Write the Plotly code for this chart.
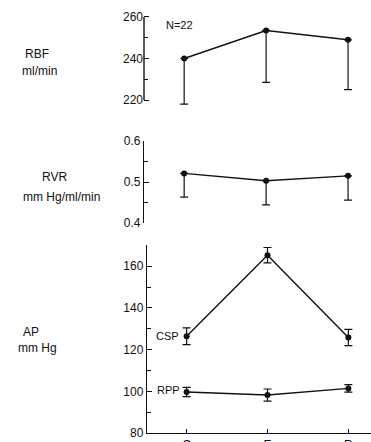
import plotly.graph_objects as go

cats = ["C", "E", "R"]
rbf = [240, 253.5, 249]
rbf_sd = [22, 25, 24]
rvr = [0.521, 0.503, 0.515]
rvr_sd = [0.058, 0.059, 0.059]
csp = [126.4, 165.3, 125.8]
csp_sd = [4.0, 3.7, 3.9]
rpp = [99.7, 98.2, 101.4]
rpp_sd = [2.2, 2.9, 1.8]

FONT = "Liberation Sans, Arial, sans-serif"
INK = "#111111"
W, H = 371, 442

fig = go.Figure()


def add(y, sd, xa, ya, lower_only):
    if lower_only:
        ey = dict(type="data", symmetric=False, array=[0] * len(sd), arrayminus=sd,
                  color=INK, thickness=1.2, width=4)
    else:
        ey = dict(type="data", array=sd, color=INK, thickness=1.2, width=4)
    fig.add_trace(go.Scatter(x=cats, y=y, xaxis=xa, yaxis=ya, mode="lines+markers",
                             line=dict(color=INK, width=1.4),
                             marker=dict(color=INK, size=6),
                             error_y=ey, showlegend=False, cliponaxis=False))


add(rbf, rbf_sd, "x", "y", True)
add(rvr, rvr_sd, "x2", "y2", True)
add(csp, csp_sd, "x3", "y3", False)
add(rpp, rpp_sd, "x3", "y3", False)

xr = [-0.49, 2.28]
common_y = dict(ticks="inside", ticklen=5, tickwidth=1.2, tickcolor=INK, showgrid=False,
                zeroline=False, linecolor=INK, linewidth=1.4,
                tickfont=dict(family=FONT, size=12, color=INK), automargin=False)

fig.update_layout(
    width=W, height=H, margin=dict(l=0, r=0, t=0, b=0),
    template="none", paper_bgcolor="white", plot_bgcolor="white",
    font=dict(family=FONT, color=INK),
    xaxis=dict(domain=[144 / W, 1], range=xr, visible=False, anchor="y"),
    xaxis2=dict(domain=[144 / W, 1], range=xr, visible=False, anchor="y2"),
    xaxis3=dict(domain=[147 / W, 1], range=xr, anchor="y3", showline=True,
                linecolor=INK, linewidth=1.4, ticks="inside", ticklen=4,
                tickcolor=INK, showgrid=False, zeroline=False, automargin=False,
                tickfont=dict(family=FONT, size=12, color=INK)),
    yaxis=dict(domain=[1 - 108.3 / H, 1 - 14.9 / H], range=[216, 261], anchor="x",
               tickvals=[220, 240, 260], showline=False,
               minor=dict(tickvals=[230, 250], ticks="inside", ticklen=4, tickcolor=INK),
               **common_y),
    yaxis2=dict(domain=[1 - 223 / H, 1 - 141 / H], range=[0.4, 0.6], anchor="x2",
                tickvals=[0.4, 0.5, 0.6], ticktext=["0.4", "0.5", "0.6"], showline=True,
                minor=dict(tickvals=[0.45, 0.55], ticks="inside", ticklen=4, tickcolor=INK),
                **common_y),
    yaxis3=dict(domain=[1 - 433 / H, 1 - 245 / H], range=[80, 170.2], anchor="x3",
                tickvals=[80, 100, 120, 140, 160], showline=True,
                minor=dict(tickvals=[90, 110, 130, 150], ticks="inside", ticklen=4, tickcolor=INK),
                **common_y),
)

fig.add_shape(type="line", xref="x domain", x0=0, x1=0, yref="y", y0=220, y1=260,
              line=dict(color=INK, width=1.4))

def label(text, x, y, size=12):
    fig.add_annotation(text=text, x=x / W, y=1 - y / H, xref="paper", yref="paper",
                       showarrow=False, font=dict(family=FONT, size=size, color=INK),
                       xanchor="center", yanchor="middle")

label("RBF", 37, 54)
label("ml/min", 39, 71)
label("RVR", 54, 177)
label("mm Hg/ml/min", 61, 197)
label("AP", 31, 332)
label("mm Hg", 37, 348)
label("N=22", 179, 25, 11)
label("CSP", 167, 336, 11)
label("RPP", 168, 390, 11)

fig.write_html("out.html")
